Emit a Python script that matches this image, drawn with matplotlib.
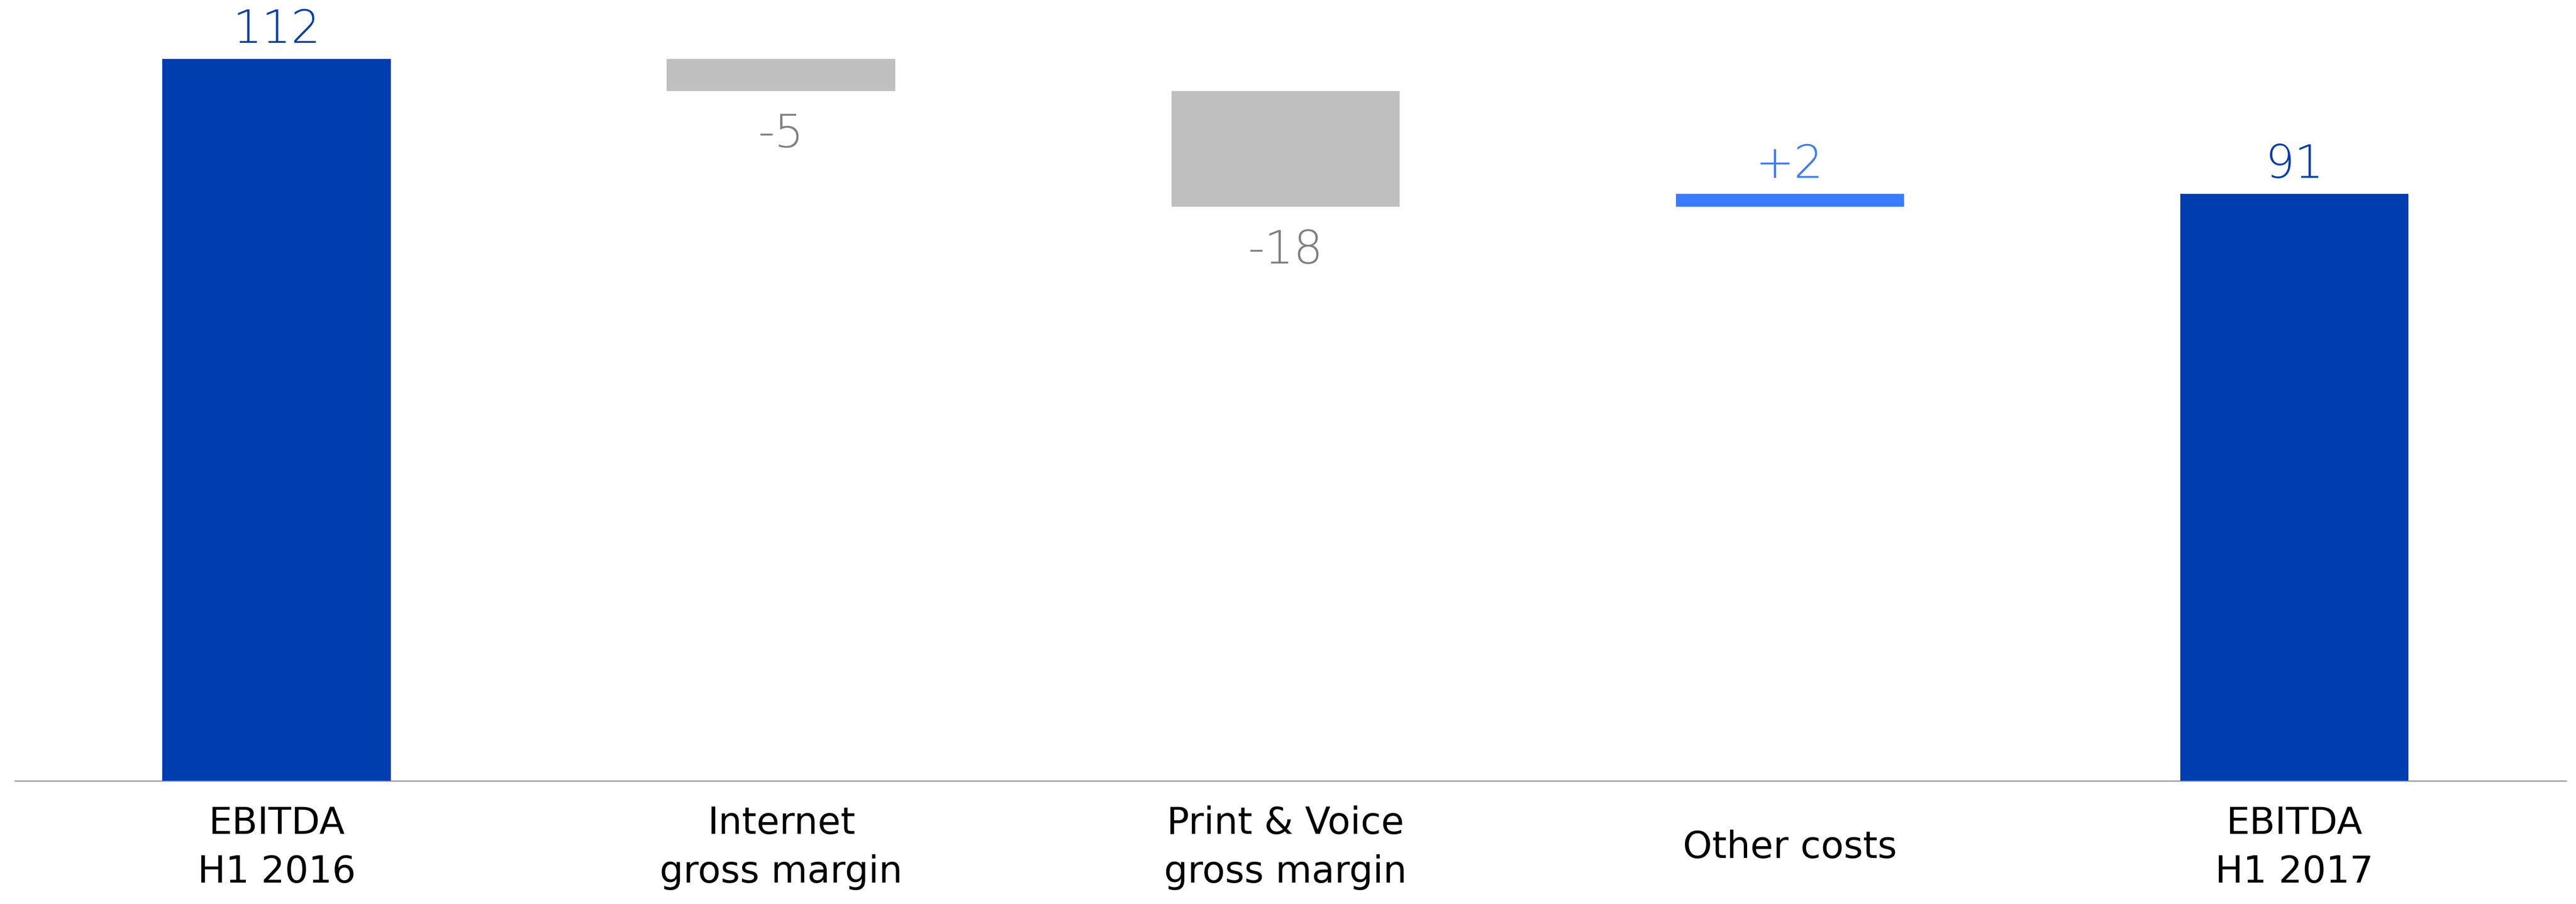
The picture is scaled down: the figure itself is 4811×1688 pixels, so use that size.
import matplotlib
matplotlib.use("Agg")
import matplotlib.pyplot as plt
import numpy as np

# waterfall data
categories = ["EBITDA\nH1 2016", "Internet\ngross margin", "Print & Voice\ngross margin",
              "Other costs", "EBITDA\nH1 2017"]
values = [112, -5, -18, 2, 91]
is_total = [True, False, False, False, True]
value_labels = ["112", "-5", "-18", "+2", "91"]

DARK_BLUE = "#003DAE"
LIGHT_BLUE = "#397CFF"
GREY_BAR = "#BFBFBF"
GREY_TXT = "#7F7F7F"

def main():
    plt.rcParams['font.family'] = ['DejaVu Sans']
    fig = plt.figure(figsize=(48.11, 16.88), dpi=100)
    ax = fig.add_axes([0.0058, 0.1363, 0.9902, 0.8637])

    x = np.arange(len(categories))
    running = 0
    for i, (v, tot) in enumerate(zip(values, is_total)):
        if tot:
            bottom, height, col, tcol = 0, v, DARK_BLUE, DARK_BLUE
            running = v
        elif v < 0:
            bottom, height, col, tcol = running + v, -v, GREY_BAR, GREY_TXT
            running += v
        else:
            bottom, height, col, tcol = running, v, LIGHT_BLUE, LIGHT_BLUE
            running += v
        ax.bar(x[i], height, bottom=bottom, width=0.453, color=col, linewidth=0)
        if tot or v > 0:
            ax.annotate(value_labels[i], (x[i], bottom + height), xytext=(0, 21.6),
                        textcoords='offset points', ha='center', va='baseline',
                        fontsize=62, color=tcol, fontweight='light')
        else:
            ax.annotate(value_labels[i], (x[i], bottom), xytext=(0, -76),
                        textcoords='offset points', ha='center', va='baseline',
                        fontsize=62, color=tcol, fontweight='light')

    ax.set_xlim(-0.519, 4.538)
    ax.set_ylim(0, 121.1)
    ax.set_xticks(x, categories)
    ax.tick_params(axis='x', length=0, pad=90, labelsize=50)
    for lbl in ax.get_xticklabels():
        lbl.set_verticalalignment('center')
        lbl.set_linespacing(1.45)
    ax.set_yticks([])
    for s in ['top', 'right', 'left']:
        ax.spines[s].set_visible(False)
    ax.spines['bottom'].set_color('#A6A6A6')
    ax.spines['bottom'].set_linewidth(2)
    ax.spines['bottom'].set_zorder(0)

    fig.savefig("out.png", dpi=100)

if __name__ == "__main__":
    main()
